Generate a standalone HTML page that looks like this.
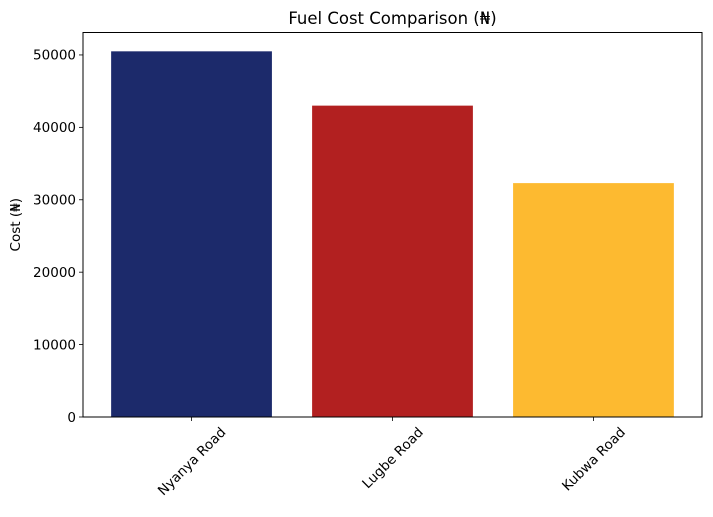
<!DOCTYPE html>
<html><head><meta charset="utf-8"><style>
body{margin:0;background:#fff;font-family:"Liberation Sans","DejaVu Sans",sans-serif}
</style></head><body>
<svg id="c" width="713" height="512" style="font-family:'DejaVu Sans','Liberation Sans',sans-serif"></svg>
<script>
const categories=["Nyanya Road","Lugbe Road","Kubwa Road"];
const values=[50500,43000,32300];
const colors=["#1c2a6b","#b22020","#fdba30"];
const yTicks=[0,10000,20000,30000,40000,50000];
const L=83,R=702,T=32.5,B=417;
const yMax=53100;
const y=v=>B-(v/yMax)*(B-T);
const x0=-0.54,x1=2.54;
const x=i=>L+(i-x0)/(x1-x0)*(R-L);
const ns="http://www.w3.org/2000/svg",svg=document.getElementById('c');
function mk(t,a,txt){const e=document.createElementNS(ns,t);for(const k in a)e.setAttribute(k,a[k]);if(txt!==undefined)e.textContent=txt;svg.appendChild(e);return e;}
const bw=(0.8/(x1-x0))*(R-L);
categories.forEach((c,i)=>{
 const r=mk('rect',{x:x(i)-bw/2,y:y(values[i]),width:bw,height:B-y(values[i]),fill:colors[i]});
 
 
 mk('line',{x1:x(i),x2:x(i),y1:B,y2:B+4,stroke:'#000','stroke-width':0.8});
 const t=mk('text',{x:x(i),y:0,'font-size':13.5,'text-anchor':'middle'},c);
 const w=t.getComputedTextLength();
 const cy=B+8+(w+13)*0.7071/2;
 t.setAttribute('y',cy+4.8);
 t.setAttribute('transform',`rotate(-45 ${x(i)} ${cy})`);
 
 
});
yTicks.forEach(v=>{
 mk('line',{x1:L-4,x2:L,y1:y(v),y2:y(v),stroke:'#000','stroke-width':0.8});
 const t=mk('text',{x:L-7,y:y(v)+4.8,'font-size':13.5,'text-anchor':'end'},v);
 
 
});
const f=mk('rect',{x:L,y:T,width:R-L,height:B-T,fill:'none',stroke:'#000','stroke-width':1});


const tt=mk('text',{x:(L+R)/2,y:24,'font-size':16.5,'text-anchor':'middle'},'Fuel Cost Comparison (₦)');


const yl=mk('text',{x:20,y:(T+B)/2,'font-size':13.5,'text-anchor':'middle',transform:`rotate(-90 20 ${(T+B)/2})`},'Cost (₦)');


</script>
</body></html>
